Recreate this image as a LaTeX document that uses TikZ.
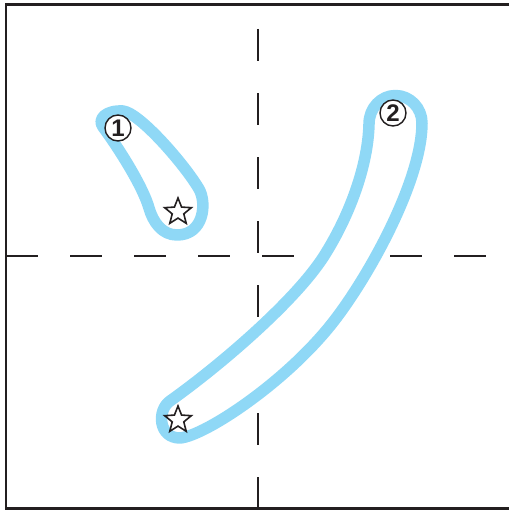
\documentclass[tikz,border=0pt]{standalone}
\usepackage{fontspec}
\setsansfont{Liberation Sans}
\usetikzlibrary{shapes.geometric}
\definecolor{ink}{HTML}{231F20}
\definecolor{trace}{HTML}{8FD8F6}

\begin{document}
\begin{tikzpicture}[x=1pt, y=-1pt,
  frame/.style={draw=ink, line width=2.6pt},
  guide/.style={draw=ink, line width=2.6pt, dash pattern=on 32pt off 32pt},
  outline/.style={draw=trace, line width=11.5pt, fill=white, line join=round},
  num/.style={circle, draw=ink, line width=1.4pt, fill=white, minimum size=26pt,
    inner sep=0pt, text=ink, font=\sffamily\bfseries\fontsize{24}{24}\selectfont},
  startmark/.style={star, star points=5, star point ratio=2.3, draw=ink,
    line width=1.6pt, fill=white, minimum size=28pt, inner sep=0pt}
]
  \useasboundingbox (0,0) rectangle (509,511);
  \draw[frame] (509,4.5) -- (6,4.5) -- (6,508.5) -- (509,508.5);
  \draw[guide] (6,256) -- (509,256);
  \draw[guide] (258,29) -- (258,509);

  \draw[outline] (123,111) .. controls (140,113) and (185,165) .. (199,189)
    .. controls (207,203) and (204,235) .. (177,235)
    .. controls (162,235) and (153,222) .. (149,208)
    .. controls (143,187) and (120,150) .. (103,127)
    .. controls (97,119) and (106,110) .. cycle;
  \draw[outline] (369,124) .. controls (368,165) and (350,215) .. (324,256)
    .. controls (296,300) and (222,364) .. (170,401)
    .. controls (157,410) and (158,438) .. (180,438)
    .. controls (205,436) and (290,380) .. (337,317)
    .. controls (373,269) and (422,178) .. (422,123)
    .. controls (422,108) and (410,95.5) .. (395.5,95.5)
    .. controls (381,95.5) and (369,108) .. cycle;

  \node[num] (one) at (118,128) {1};
  \node[num] (two) at (393,113) {2};
  \node[startmark] (start1) at (178,212) {};
  \node[startmark] (start2) at (178,420) {};
\end{tikzpicture}
\end{document}
